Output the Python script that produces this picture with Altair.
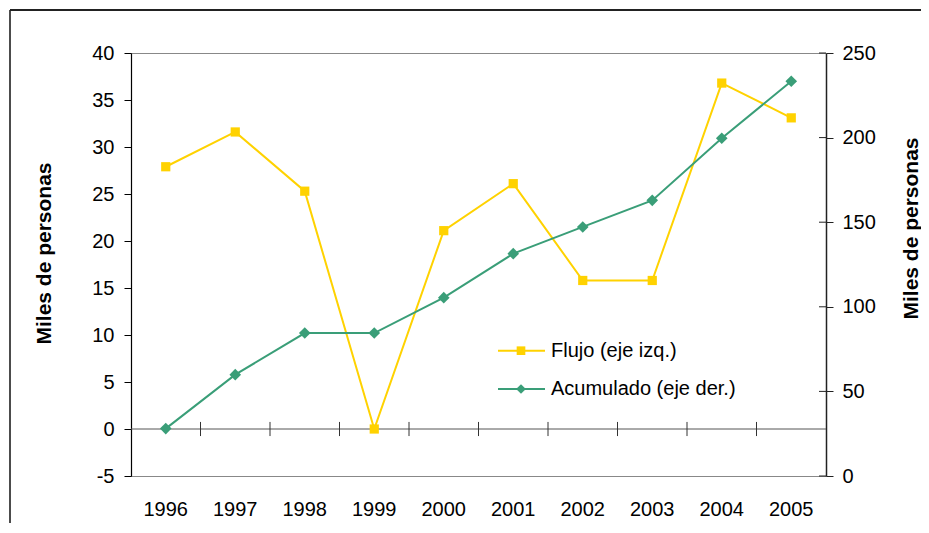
import altair as alt
import pandas as pd

# ---------------- data ----------------
years = ['1996', '1997', '1998', '1999', '2000', '2001', '2002', '2003', '2004', '2005']
flujo = [27.9, 31.6, 25.3, 0.0, 21.1, 26.1, 15.8, 15.8, 36.8, 33.1]
acumulado = [28.0, 59.9, 84.5, 84.5, 105.4, 131.4, 147.2, 162.9, 199.6, 233.3]
left_ticks = [-5, 0, 5, 10, 15, 20, 25, 30, 35, 40]
right_ticks = [0, 50, 100, 150, 200, 250]
series_names = ['Flujo (eje izq.)', 'Acumulado (eje der.)']
series_colors = ['#FFD200', '#3A9E78']
y_title = 'Miles de personas'

FONT = 'Liberation Sans'

df = pd.DataFrame({'year': years, 'flujo': flujo, 'acum': acumulado})
bounds = pd.DataFrame({'year': years[1:]})
rt = pd.DataFrame({'v': right_ticks})
one = pd.DataFrame({'a': [0]})

xscale = alt.Scale(paddingInner=0, paddingOuter=0)
yl_scale = alt.Scale(domain=[-5, 40], nice=False, zero=False)
yr_scale = alt.Scale(domain=[0, 250], nice=False)

left_axis = alt.Axis(orient='left', values=left_ticks, tickSize=7, tickColor='black',
                     domainColor='black', domainWidth=1.2, labelFontSize=20, labelPadding=10,
                     labelColor='black', grid=False, title=y_title, titleX=-87, titleY=200,
                     titleAngle=270, titleAlign='center', titleBaseline='middle',
                     titleFontSize=21, titleFontWeight='bold', titleColor='black',
                     labelExpr="datum.value < 0 ? '-' + abs(datum.value) : datum.label")

right_axis = alt.Axis(orient='right', values=right_ticks, tickSize=7, tickColor='#222',
                      domainColor='#222', domainWidth=1.5, labelFontSize=20, labelPadding=9,
                      labelColor='black', grid=False, title=y_title, titleX=85, titleY=175,
                      titleAngle=270, titleAlign='center', titleBaseline='middle',
                      titleFontSize=21, titleFontWeight='bold', titleColor='black')

x_label_axis = alt.Axis(orient='bottom', domain=False, ticks=False, labelAngle=0,
                        labelFontSize=20, labelPadding=23, labelColor='black', title=None,
                        grid=False)

x_enc = alt.X('year:O', scale=xscale, axis=x_label_axis, sort=years)

# ---------------- left group ----------------
zero_rule = alt.Chart(one).mark_rule(color='#555', strokeWidth=1).encode(
    y=alt.Y(datum=0, scale=yl_scale, axis=left_axis)
)
x_ticks = alt.Chart(bounds).mark_rule(color='#333', strokeWidth=1).encode(
    x=alt.X('year:O', scale=xscale, axis=x_label_axis, sort=years, bandPosition=0),
    y=alt.Y(datum=-0.75, scale=yl_scale, axis=left_axis),
    y2=alt.datum(0.75),
)
flujo_line = alt.Chart(df).mark_line(color=series_colors[0], strokeWidth=2).encode(
    x=x_enc,
    y=alt.Y('flujo:Q', scale=yl_scale, axis=left_axis),
)
flujo_pts = alt.Chart(df).mark_point(shape='square', filled=True, opacity=1,
                                     color=series_colors[0], size=85).encode(
    x=x_enc,
    y=alt.Y('flujo:Q', scale=yl_scale, axis=left_axis),
)

# outer frame (decoration)
frame_left = alt.Chart(one).mark_rule(color='#111', strokeWidth=1.5).encode(
    x=alt.value(-121), y=alt.value(-43), y2=alt.value(490)
)
frame_top = alt.Chart(one).mark_rule(color='#222', strokeWidth=2).encode(
    x=alt.value(-121), x2=alt.value(800), y=alt.value(-43)
)

# manual legend
legend_layers = []
shapes = ['square', 'diamond']
sizes = [75, 95]
for i, (name, col) in enumerate(zip(series_names, series_colors)):
    ly = 297.7 + i * 38.3
    ldf = pd.DataFrame({'name': [name]})
    legend_layers.append(
        alt.Chart(ldf).mark_rule(color=col, strokeWidth=2).encode(
            x=alt.value(367), x2=alt.value(414), y=alt.value(ly)))
    legend_layers.append(
        alt.Chart(ldf).mark_point(shape=shapes[i], filled=True, opacity=1, color=col,
                                  size=sizes[i]).encode(
            x=alt.value(390), y=alt.value(ly)))
    legend_layers.append(
        alt.Chart(ldf).mark_text(align='left', baseline='middle', fontSize=20,
                                 font=FONT, color='black').encode(
            x=alt.value(420), y=alt.value(ly), text='name:N'))

left_group = alt.layer(zero_rule, x_ticks, flujo_line, flujo_pts,
                       frame_left, frame_top, *legend_layers)

# ---------------- right group ----------------
acum_line = alt.Chart(df).mark_line(color=series_colors[1], strokeWidth=2).encode(
    x=x_enc,
    y=alt.Y('acum:Q', scale=yr_scale, axis=right_axis),
)
acum_pts = alt.Chart(df).mark_point(shape='diamond', filled=True, opacity=1,
                                    color=series_colors[1], size=135).encode(
    x=x_enc,
    y=alt.Y('acum:Q', scale=yr_scale, axis=right_axis),
)
r_inner_ticks = alt.Chart(rt).mark_rule(color='#222', strokeWidth=1).encode(
    y=alt.Y('v:Q', scale=yr_scale, axis=right_axis),
    x=alt.value(688), x2=alt.value(695),
)
right_group = alt.layer(r_inner_ticks, acum_line, acum_pts)

chart = alt.layer(left_group, right_group).resolve_scale(y='independent').properties(
    width=695, height=423,
    autosize=alt.AutoSizeParams(type='none'),
    padding={'left': 123, 'top': 45, 'right': 95, 'bottom': 47},
    background='white',
).configure(font=FONT).configure_view(stroke='#888', strokeWidth=1)

chart.save("out.html", embed_options={"renderer": "svg", "actions": False})
